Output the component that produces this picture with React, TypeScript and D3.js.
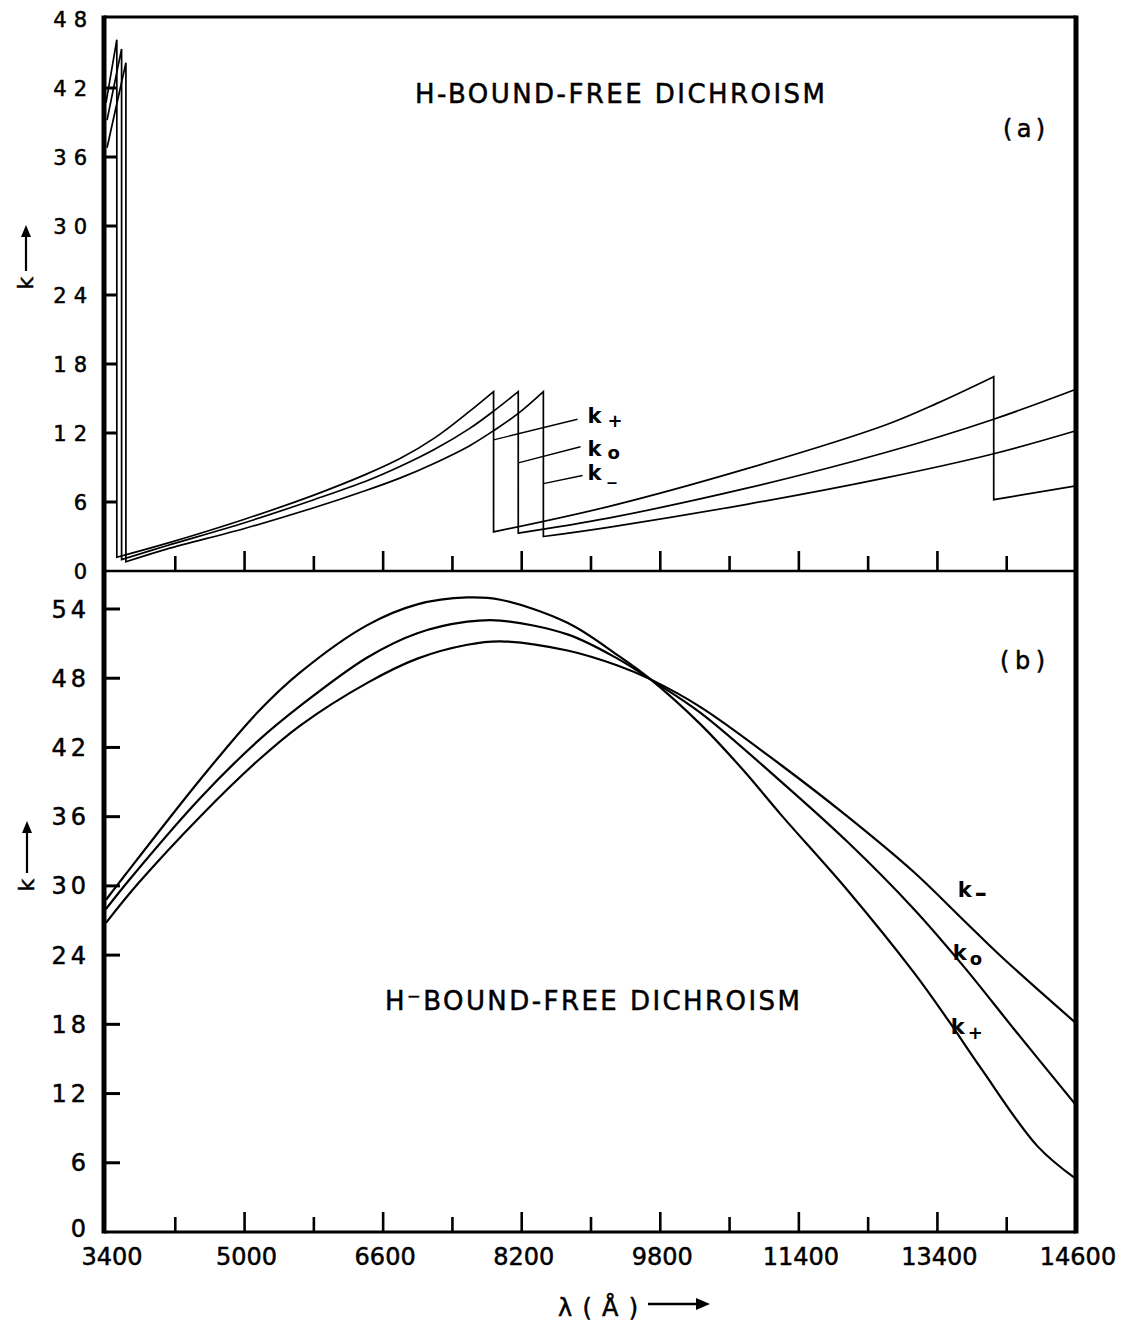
import React from "react";
import * as d3 from "d3";

type Pt = [number, number];

// ---------- axes ----------
const xTicks = [3400, 4200, 5000, 5800, 6600, 7400, 8200, 9000, 9800, 10600, 11400, 12200, 13000, 13800, 14600];
const xLabelTicks = [3400, 5000, 6600, 8200, 9800, 11400, 13000, 14600];
const xLabelTexts = ["3400", "5000", "6600", "8200", "9800", "11400", "13400", "14600"];
const yTicksA = [0, 6, 12, 18, 24, 30, 36, 42, 48];
const yTicksB = [0, 6, 12, 18, 24, 30, 36, 42, 48, 54];

// ---------- panel (a): H bound-free (pieces separated by absorption edges) ----------
const hKplus: Pt[][] = [
  [[3400, 40.7], [3525, 46.2]],
  [[3525, 1.2], [4100, 2.4], [5000, 4.5], [5800, 6.6], [6400, 8.4], [6800, 9.8], [7200, 11.6], [7600, 13.9], [7875, 15.6]],
  [[7875, 3.4], [9200, 5.6], [10800, 8.9], [12400, 12.7], [13000, 14.6], [13650, 16.9]],
  [[13650, 6.2], [14600, 7.4]],
];
const hKzero: Pt[][] = [
  [[3412, 39.2], [3580, 45.4]],
  [[3580, 1.0], [4100, 2.2], [5000, 4.2], [5800, 6.2], [6400, 7.8], [6800, 9.1], [7200, 10.6], [7600, 12.4], [7875, 13.9], [8160, 15.6]],
  [[8160, 3.3], [9200, 4.6], [10800, 7.2], [12400, 10.3], [13650, 13.2], [14600, 15.8]],
];
const hKminus: Pt[][] = [
  [[3412, 36.8], [3630, 44.2]],
  [[3630, 0.8], [4100, 1.9], [5000, 3.7], [5800, 5.5], [6400, 7.0], [6800, 8.1], [7200, 9.4], [7600, 10.9], [7875, 12.2], [8160, 13.7], [8450, 15.6]],
  [[8450, 3.0], [9200, 3.8], [10800, 5.8], [12400, 8.1], [13650, 10.2], [14600, 12.2]],
];
const pointersA: Pt[][] = [
  [[7875, 11.4], [8844, 13.2]],
  [[8160, 9.4], [8879, 10.8]],
  [[8450, 7.6], [8902, 8.3]],
];
const labelsA = [
  { sub: "+", lam: 8960, v: 12.9 },
  { sub: "o", lam: 8960, v: 10.0 },
  { sub: "_", lam: 8960, v: 7.9 },
];

// ---------- panel (b): H- bound-free ----------
const hmKplus: Pt[] = [
  [3400, 28.8], [3585, 30.6], [4486, 39.2], [5145, 45.0], [5642, 48.5], [6417, 52.6], [6995, 54.4],
  [7572, 55.0], [7954, 54.8], [8728, 52.8], [9306, 50.0], [9688, 47.9], [10265, 44.0], [10762, 40.0],
  [11190, 36.2], [11964, 29.6], [12727, 22.5], [13120, 18.4], [13502, 14.2], [14160, 7.4], [14600, 4.6],
];
const hmKzero: Pt[] = [
  [3400, 28.0], [3677, 30.6], [4486, 37.6], [5145, 42.5], [5642, 45.6], [6417, 49.8], [6995, 51.9],
  [7572, 52.9], [7954, 53.0], [8728, 51.8], [9306, 49.7], [9688, 47.9], [10265, 45.0], [11155, 39.3],
  [11964, 33.8], [12727, 28.0], [13305, 23.0], [13883, 17.6], [14600, 11.0],
];
const hmKminus: Pt[] = [
  [3400, 26.8], [3770, 30.2], [4486, 36.0], [5145, 40.8], [5642, 43.9], [6417, 47.6], [6995, 49.7],
  [7572, 50.9], [7954, 51.2], [8728, 50.4], [9306, 49.1], [9688, 47.9], [10265, 45.5], [11190, 40.5],
  [11964, 36.0], [12727, 31.2], [13305, 27.0], [13733, 23.9], [14600, 18.1],
];
const labelsB = [
  { sub: "–", lam: 13236, v: 29.0 },
  { sub: "o", lam: 13178, v: 23.6 },
  { sub: "+", lam: 13155, v: 17.2 },
];

export default function App() {
  const W = 1121, H = 1325;
  const L = 104, R = 1076, T = 17, MID = 571, B = 1232;
  const x = d3.scaleLinear().domain([3400, 14600]).range([106, R]);
  const yA = d3.scaleLinear().domain([0, 48]).range([MID, 19]);
  const yB = d3.scaleLinear().domain([0, 54]).range([B, 609]);
  const font = "'DejaVu Sans', sans-serif";

  const piecesPath = (pieces: Pt[][], y: d3.ScaleLinear<number, number>) => {
    const gen = d3.line<Pt>().x(d => x(d[0])).y(d => y(d[1])).curve(d3.curveCatmullRom.alpha(0.5));
    return pieces.map((p, i) => { const s = gen(p) || ""; return i === 0 ? s : "L" + s.slice(1); }).join("");
  };
  const straight = (p: Pt[], y: d3.ScaleLinear<number, number>) =>
    d3.line<Pt>().x(d => x(d[0])).y(d => y(d[1]))(p) || "";

  const majorSet = new Set(xLabelTicks);
  const ink = { stroke: "#000", strokeWidth: 0.5 };

  return (
    <svg width={W} height={H} style={{ position: "absolute", left: 0, top: 0, background: "#fff" }}
      fontFamily={font}>
      <rect x={0} y={0} width={W} height={H} fill="#fff" />
      {/* frame */}
      <line x1={L} y1={T} x2={R} y2={T} stroke="#000" strokeWidth={3} />
      <line x1={L} y1={T - 1.5} x2={L} y2={B + 1.5} stroke="#000" strokeWidth={5} />
      <line x1={R} y1={T - 1.5} x2={R} y2={B + 1.5} stroke="#000" strokeWidth={5} />
      <line x1={L} y1={MID} x2={R} y2={MID} stroke="#000" strokeWidth={2.5} />
      <line x1={L} y1={B} x2={R} y2={B} stroke="#000" strokeWidth={3} />

      {/* x ticks on both axes */}
      {xTicks.slice(1, -1).map(v => {
        const len = majorSet.has(v) ? 20 : 15;
        return (
          <g key={"xt" + v}>
            <line x1={x(v)} x2={x(v)} y1={MID} y2={MID - len} stroke="#000" strokeWidth={2.6} />
            <line x1={x(v)} x2={x(v)} y1={B} y2={B - len} stroke="#000" strokeWidth={2.6} />
          </g>
        );
      })}
      {xLabelTicks.map((v, i) => (
        <text key={"xl" + v} x={x(v) + (i === 0 ? 6 : 2)} y={1265} fontSize={24} textAnchor="middle" {...ink}>{xLabelTexts[i]}</text>
      ))}

      {/* y ticks & labels panel a */}
      {yTicksA.map(v => (
        <g key={"ya" + v}>
          {v > 0 && v < 48 && <line x1={L} x2={L + 12} y1={yA(v)} y2={yA(v)} stroke="#000" strokeWidth={3} />}
          <text x={87 + 7} y={yA(v) + 7.5} fontSize={21} textAnchor="end" letterSpacing={7} {...ink}>{String(v)}</text>
        </g>
      ))}
      {/* y ticks & labels panel b */}
      {yTicksB.map(v => (
        <g key={"yb" + v}>
          {v > 0 && <line x1={L} x2={L + 16} y1={yB(v)} y2={yB(v)} stroke="#000" strokeWidth={3} />}
          <text x={86 + 4} y={yB(v) + (v === 0 ? 5 : 8.5)} fontSize={24} textAnchor="end" letterSpacing={4} {...ink}>{String(v)}</text>
        </g>
      ))}

      {/* y axis titles */}
      <g transform="translate(33,283) rotate(-90)">
        <text x={0} y={0} fontSize={22} textAnchor="middle" {...ink}>k</text>
        <line x1={12} y1={-7} x2={50} y2={-7} stroke="#000" strokeWidth={2.2} />
        <path d="M58,-7 L46,-12 L46,-2 Z" fill="#000" />
      </g>
      <g transform="translate(34,885) rotate(-90)">
        <text x={0} y={0} fontSize={22} textAnchor="middle" {...ink}>k</text>
        <line x1={12} y1={-7} x2={56} y2={-7} stroke="#000" strokeWidth={2.2} />
        <path d="M64,-7 L52,-12 L52,-2 Z" fill="#000" />
      </g>

      {/* x axis title */}
      <text x={558} y={1316} fontSize={24} textLength={80} lengthAdjust="spacing" {...ink}>λ ( Å )</text>
      <line x1={648} y1={1304} x2={698} y2={1304} stroke="#000" strokeWidth={2.4} />
      <path d="M710,1304 L696,1298 L696,1310 Z" fill="#000" />

      {/* titles */}
      <text x={415} y={103} fontSize={26} textLength={410} lengthAdjust="spacing" {...ink}>H-BOUND-FREE DICHROISM</text>
      <text x={1003} y={137} fontSize={24} textLength={42} lengthAdjust="spacing" {...ink}>(a)</text>
      <text x={385} y={1010} fontSize={26} textLength={415} lengthAdjust="spacing" {...ink}>H⁻BOUND-FREE DICHROISM</text>
      <text x={1000} y={669} fontSize={24} textLength={45} lengthAdjust="spacing" {...ink}>(b)</text>

      {/* panel a curves */}
      <g fill="none" stroke="#000" strokeWidth={1.7}>
        <path d={piecesPath(hKplus, yA)} />
        <path d={piecesPath(hKzero, yA)} />
        <path d={piecesPath(hKminus, yA)} />
        {pointersA.map((p, i) => <path key={"pa" + i} d={straight(p, yA)} strokeWidth={1.4} />)}
      </g>
      {labelsA.map((l, i) => (
        <g key={"la" + i}>
          <text x={x(l.lam)} y={yA(l.v)} fontSize={21} fontWeight="bold">k</text>
          <text x={x(l.lam) + 20} y={yA(l.v) + (l.sub === "o" ? 3 : l.sub === "+" ? 4 : 0)} fontSize={18}
            fontWeight="bold">{l.sub}</text>
        </g>
      ))}

      {/* panel b curves */}
      <g fill="none" stroke="#000" strokeWidth={2.2}>
        <path d={piecesPath([hmKplus], yB)} />
        <path d={piecesPath([hmKzero], yB)} />
        <path d={piecesPath([hmKminus], yB)} />
      </g>
      {labelsB.map((l, i) => (
        <g key={"lb" + i}>
          <text x={x(l.lam)} y={yB(l.v)} fontSize={21} fontWeight="bold">k</text>
          <text x={x(l.lam) + 17} y={yB(l.v) + (l.sub === "o" ? 5 : l.sub === "+" ? 5 : 4)}
            fontSize={l.sub === "–" ? 24 : 18} fontWeight="bold">{l.sub}</text>
        </g>
      ))}
    </svg>
  );
}
